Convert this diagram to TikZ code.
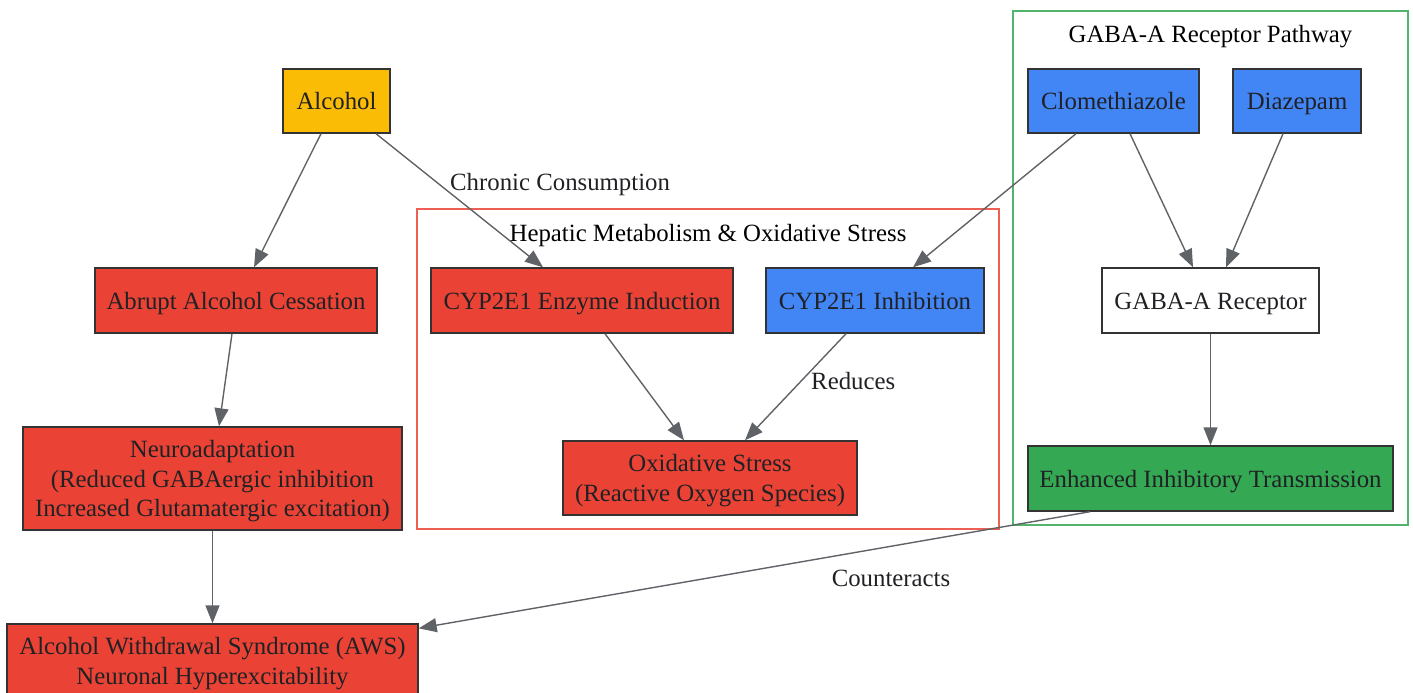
\documentclass[tikz,border=0pt]{standalone}
\usepackage{fontspec}
\setmainfont{Liberation Serif}
\usetikzlibrary{arrows.meta}
\definecolor{gred}{HTML}{EA4335}
\definecolor{gblue}{HTML}{4285F4}
\definecolor{gyellow}{HTML}{FBBC05}
\definecolor{ggreen}{HTML}{34A853}
\definecolor{txt}{HTML}{202124}
\definecolor{edgec}{HTML}{5F6368}
\definecolor{boxline}{HTML}{333333}
\begin{document}
\begin{tikzpicture}[x=1pt,y=-1pt,
  box/.style={draw=boxline, line width=1.4pt, text=txt, font=\fontsize{24.8}{29.76}\selectfont, align=center, inner sep=0pt, text height=21.9pt, text depth=4.5pt},
  twoline/.style={text height=51.66pt, text depth=4.5pt},
  threeline/.style={text height=81.42pt, text depth=4.5pt},
  cluster/.style={line width=1.3pt, inner sep=0pt},
  lbl/.style={text=txt, font=\fontsize{24.8}{29.76}\selectfont, inner sep=0pt, text height=21.9pt, text depth=4.5pt},
  arr/.style={draw=edgec, line width=1.4pt, -{Triangle[length=18pt,width=14pt]}}
]
\useasboundingbox (0,0) rectangle (1413,693);
\clip (0,0) rectangle (1413,693);

% clusters
\node[cluster, draw=gred!85!white, minimum width=582pt, minimum height=320pt] (hep) at (708,369) {};
\node[lbl, text=black] (heplbl) at (708,233) {Hepatic Metabolism \& Oxidative Stress};
\node[cluster, draw=ggreen!85!white, minimum width=395pt, minimum height=514pt] (gaba) at (1210.5,268) {};
\node[lbl, text=black] (gabalbl) at (1210.5,34) {GABA-A Receptor Pathway};

% nodes
\node[box, fill=gyellow, minimum width=107pt, minimum height=64pt] (alc) at (336.5,101) {Alcohol};
\node[box, fill=gred, minimum width=282pt, minimum height=65pt] (abr) at (236,300.5) {Abrupt Alcohol Cessation};
\node[box, threeline, fill=gred, minimum width=379pt, minimum height=103pt] (neu) at (212.5,478.5) {Neuroadaptation\\(Reduced GABAergic inhibition\\Increased Glutamatergic excitation)};
\node[box, twoline, fill=gred, minimum width=411pt, minimum height=74pt] (aws) at (212.5,661) {Alcohol Withdrawal Syndrome (AWS)\\Neuronal Hyperexcitability};
\node[box, fill=gred, minimum width=302pt, minimum height=65pt] (cypi) at (582,300.5) {CYP2E1 Enzyme Induction};
\node[box, fill=gblue, minimum width=218pt, minimum height=65pt] (cyph) at (875,300.5) {CYP2E1 Inhibition};
\node[box, twoline, fill=gred, minimum width=294pt, minimum height=74pt] (ox) at (710,478) {Oxidative Stress\\(Reactive Oxygen Species)};
\node[box, fill=gblue, minimum width=171pt, minimum height=64pt] (clo) at (1113.5,101) {Clomethiazole};
\node[box, fill=gblue, minimum width=128pt, minimum height=64pt] (dia) at (1297,101) {Diazepam};
\node[box, fill=white, minimum width=217pt, minimum height=65pt] (gar) at (1210.5,300.5) {GABA-A Receptor};
\node[box, fill=ggreen, minimum width=365pt, minimum height=65pt] (enh) at (1210.5,478.5) {Enhanced Inhibitory Transmission};

% edges
\draw[arr] ([xshift=-15.5pt]alc.south) -- ([xshift=18pt]abr.north);
\draw[arr] ([xshift=39.5pt]alc.south) -- ([xshift=-39pt]cypi.north);
\node[lbl, anchor=west] (cc) at (450,182) {Chronic Consumption};
\draw[arr] ([xshift=-37.5pt]clo.south) -- ([xshift=38pt]cyph.north);
\draw[arr] ([xshift=16.5pt]clo.south) -- ([xshift=-17.5pt]gar.north);
\draw[arr] ([xshift=-14pt]dia.south) -- ([xshift=15.5pt]gar.north);
\draw[arr] (gar.south) -- (enh.north);
\draw[arr] ([xshift=-4pt]abr.south) -- ([xshift=6.5pt]neu.north);
\draw[arr] (neu.south) -- (aws.north);
\draw[arr] ([xshift=23pt]cypi.south) -- ([xshift=-26pt]ox.north);
\draw[arr] ([xshift=-29pt]cyph.south) -- ([xshift=35pt]ox.north);
\node[lbl, anchor=west] (red) at (811,381) {Reduces};
\draw[arr] ([xshift=-120.5pt]enh.south) -- ([yshift=-5pt]aws.north east);
\node[lbl] (cnt) at (891,578) {Counteracts};
\end{tikzpicture}
\end{document}
